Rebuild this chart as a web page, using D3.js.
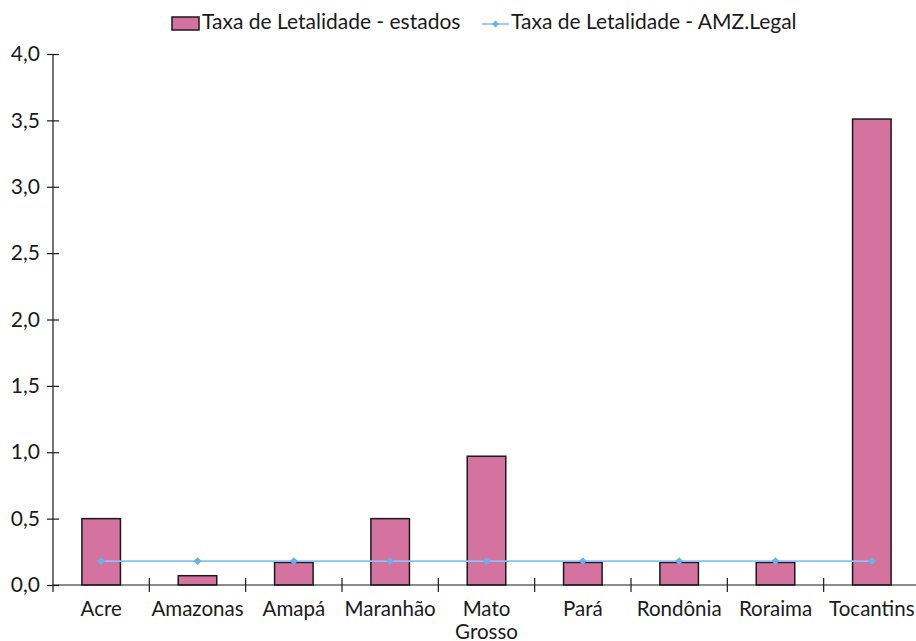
<!DOCTYPE html>
<html>
<head>
<meta charset="utf-8">
<script src="https://cdn.jsdelivr.net/npm/d3@7"></script>
<style>
  html, body { margin: 0; padding: 0; background: #fff; }
  svg { display: block; }
  text { font-family: Lato, "Open Sans", sans-serif; fill: #1a1a1a; }
</style>
</head>
<body>
<svg id="chart" width="916" height="641"></svg>
<script>
// Letality rate by state of the Legal Amazon, with the regional rate as a reference line
const states = ["Acre", "Amazonas", "Amapá", "Maranhão", "Mato Grosso", "Pará", "Rondônia", "Roraima", "Tocantins"];
const stateRates = [0.50, 0.07, 0.17, 0.50, 0.97, 0.17, 0.17, 0.17, 3.51];
const amzLegalRate = [0.18, 0.18, 0.18, 0.18, 0.18, 0.18, 0.18, 0.18, 0.18];
const yTicks = [0, 0.5, 1.0, 1.5, 2.0, 2.5, 3.0, 3.5, 4.0];
const seriesNames = ["Taxa de Letalidade - estados", "Taxa de Letalidade - AMZ.Legal"];

const barFill = "#d4739f";
const lineColor = "#86c3f0";
const markerColor = "#6cb2ea";

const svg = d3.select("#chart");
const plotL = 53, plotR = 920, plotT = 54, plotB = 585;

const x = d3.scaleBand().domain(states).range([plotL, plotR]).paddingInner(0.6).paddingOuter(0.3);
const xb = d3.scaleBand().domain(states).range([plotL, plotR]); // full bands for tick marks
const y = d3.scaleLinear().domain([0, 4]).range([plotB, plotT]);

const fmt = v => d3.format(".1f")(v).replace(".", ",");

// Bars
svg.append("g").selectAll("rect").data(states).join("rect")
  .attr("x", d => x(d))
  .attr("y", (d, i) => y(stateRates[i]))
  .attr("width", x.bandwidth())
  .attr("height", (d, i) => y(0) - y(stateRates[i]))
  .attr("fill", barFill)
  .attr("stroke", "#1a1a1a")
  .attr("stroke-width", 1.5);

// Y axis
const yAxis = svg.append("g").attr("transform", `translate(${plotL},0)`)
  .call(d3.axisLeft(y).tickValues(yTicks).tickFormat(fmt).tickSize(0).tickPadding(13));
yAxis.select(".domain").remove();
yAxis.append("line").attr("x1", 0).attr("x2", 0).attr("y1", plotT).attr("y2", plotB + 7)
  .attr("stroke", "#1a1a1a").attr("stroke-width", 1.2);
yAxis.selectAll(".tick").append("line").attr("x1", -6).attr("x2", 6)
  .attr("stroke", "#1a1a1a").attr("stroke-width", 1.2);
yAxis.selectAll(".tick text").attr("font-size", 21).attr("fill", "#1a1a1a")
  .attr("font-family", "Lato, sans-serif");

// X axis baseline and category separators
const xAxis = svg.append("g").attr("transform", `translate(0,${plotB})`);
xAxis.append("line").attr("x1", plotL).attr("x2", plotR).attr("y1", 0).attr("y2", 0)
  .attr("stroke", "#1a1a1a").attr("stroke-width", 1.2);
xAxis.selectAll("line.sep").data(states.slice(1)).join("line")
  .attr("class", "sep")
  .attr("x1", d => xb(d)).attr("x2", d => xb(d))
  .attr("y1", -7).attr("y2", 7)
  .attr("stroke", "#1a1a1a").attr("stroke-width", 1.2);

// Category labels (multi-word names wrap onto two lines)
const labelG = xAxis.selectAll("g.cat").data(states).join("g")
  .attr("class", "cat")
  .attr("transform", d => `translate(${x(d) + x.bandwidth() / 2},0)`);
labelG.each(function (d) {
  const words = d === "Mato Grosso" ? ["Mato", "Grosso"] : [d];
  d3.select(this).selectAll("text").data(words).join("text")
    .attr("text-anchor", "middle")
    .attr("font-size", 20.5)
    .attr("y", (w, i) => 31 + i * 22.5)
    .text(w => w);
});

// Reference line
const cx = d => x(d) + x.bandwidth() / 2;
svg.append("path")
  .datum(states)
  .attr("fill", "none")
  .attr("stroke", lineColor)
  .attr("stroke-width", 1.6)
  .attr("d", d3.line().x(d => cx(d)).y((d, i) => y(amzLegalRate[i])));
svg.append("g").selectAll("path").data(states).join("path")
  .attr("transform", (d, i) => `translate(${cx(d)},${y(amzLegalRate[i])})`)
  .attr("d", d3.symbol(d3.symbolDiamond2, 40))
  .attr("fill", markerColor);

// Legend
const legend = svg.append("g");
legend.append("rect").attr("x", 172).attr("y", 17).attr("width", 27).attr("height", 13)
  .attr("fill", barFill).attr("stroke", "#1a1a1a").attr("stroke-width", 1.5);
legend.append("text").attr("x", 202).attr("y", 29).attr("font-size", 21).text(seriesNames[0]);
legend.append("line").attr("x1", 482).attr("x2", 509).attr("y1", 24).attr("y2", 24)
  .attr("stroke", lineColor).attr("stroke-width", 1.6);
legend.append("path").attr("transform", "translate(495.5,24)")
  .attr("d", d3.symbol(d3.symbolDiamond2, 30)).attr("fill", markerColor);
legend.append("text").attr("x", 511).attr("y", 29).attr("font-size", 21).text(seriesNames[1]);
</script>
</body>
</html>
